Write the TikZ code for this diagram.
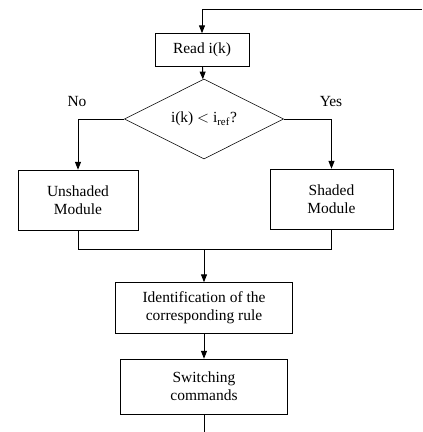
\documentclass[tikz,border=0pt]{standalone}
\usepackage{fontspec}
\setmainfont{Liberation Serif}
\usetikzlibrary{shapes.geometric, positioning, arrows.meta}

\tikzset{
  block/.style={draw, rectangle, align=center, inner sep=2pt, font=\fontsize{11}{13}\selectfont},
  decision/.style={draw, diamond, inner sep=0pt, minimum width=3.975cm, minimum height=1.325cm, font=\fontsize{11}{13}\selectfont},
  flow/.style={line width=0.7pt, -{Triangle[length=5.5pt,width=4.2pt]}},
  wire/.style={line width=0.7pt}
}

\begin{document}
\begin{tikzpicture}[x=0.025cm,y=-0.025cm]
		\useasboundingbox (0,0) rectangle (422,432);
		% Blocks
		\node[block, minimum width=2.35cm, minimum height=0.825cm] (read) at (202,50) {Read i(k)};
		\node[decision] (test) at (204,119) {i(k) $<$ i\textsubscript{ref}?};
		\node[block, minimum width=3cm, minimum height=1.5cm] (unshaded) at (78,200) {Unshaded\\Module};
		\node[block, minimum width=3.075cm, minimum height=1.5cm] (shaded) at (331.5,199) {Shaded\\Module};
		\node[block, minimum width=4.425cm, minimum height=1.275cm] (rule) at (204,308) {Identification of the\\corresponding rule};
		\node[block, minimum width=4.175cm, minimum height=1.375cm] (switch) at (204,386.5) {Switching\\commands};
		% Branch labels
		\node[font=\fontsize{11}{13}\selectfont] (no) at (77,102) {No};
		\node[font=\fontsize{11}{13}\selectfont] (yes) at (331,102) {Yes};
		% Free ends
		\coordinate (loop) at (422,9);
		\coordinate (merge) at (204,249);
		\coordinate (out) at (204,432);
		% Connectors
		\draw[flow] (loop) -| (read.north);
		\draw[flow] (read) -- (test);
		\draw[flow] (test.west) -| (unshaded.north);
		\draw[flow] (test.east) -| (shaded.north);
		\draw[wire] (unshaded.south) |- (merge);
		\draw[wire] (shaded.south) |- (merge);
		\draw[flow] (merge) -- (rule.north);
		\draw[flow] (rule) -- (switch);
		\draw[wire] (switch.south) -- (out);
	\end{tikzpicture}
\end{document}
